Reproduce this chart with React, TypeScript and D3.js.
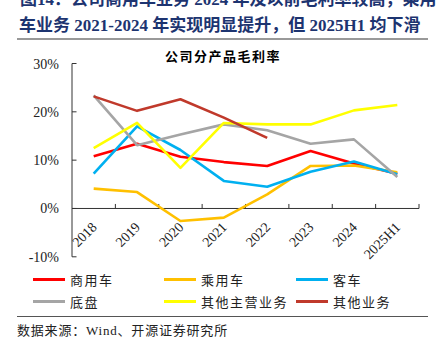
import React from "react";
import * as d3 from "d3";

const categories = ["2018", "2019", "2020", "2021", "2022", "2023", "2024", "2025H1"];
const seriesNames = ["商用车", "乘用车", "客车", "底盘", "其他主营业务", "其他业务"];
const commercial = [10.8, 13.4, 10.7, 9.6, 8.8, 11.9, 9.3, 7.2];
const passenger = [4.1, 3.4, -2.6, -1.9, 2.9, 8.8, 8.9, 7.5];
const bus = [7.2, 17.0, 12.1, 5.7, 4.5, 7.6, 9.7, 7.1];
const chassis = [23.4, 13.1, 15.3, 17.4, 16.2, 13.4, 14.3, 6.5];
const otherMain = [12.5, 17.7, 8.4, 17.7, 17.4, 17.4, 20.3, 21.4];
const otherBiz = [23.2, 20.2, 22.6, 18.8, 14.6, null, null, null];
const yTicks = [30, 20, 10, 0, -10];
const colors = ["#FF0000", "#FFC000", "#00B0F0", "#A5A5A5", "#FFFF00", "#C0392B"];

const allSeries: (number | null)[][] = [commercial, passenger, bus, chassis, otherMain, otherBiz];

const serif = "'Liberation Serif', 'Times New Roman', 'Noto Sans CJK SC', serif";
const cjk = "'Noto Sans CJK SC', sans-serif";

export default function App() {
  const x = d3.scaleBand<string>().domain(categories).range([72, 419]);
  const y = d3.scaleLinear().domain([-10, 30]).range([256.8, 63.5]);
  const line = d3
    .line<number | null>()
    .defined((d) => d !== null)
    .x((_, i) => (x(categories[i]) as number) + x.bandwidth() / 2)
    .y((d) => y(d as number));

  const legendCols = [33, 164, 296];
  const legendRows = [279.5, 301.5];

  return (
    <svg
      width={439}
      height={354}
      style={{ position: "absolute", left: 0, top: 0, background: "#fff" }}
    >
      <rect width={439} height={354} fill="#fff" />
      {/* title */}
      <text x={20} y={5} fontFamily={serif} fontWeight="bold" fontSize={17} fill="#1D3470">
        图14：公司商用车业务 2024 年及以前毛利率较高，乘用
      </text>
      <text x={19} y={31} fontFamily={serif} fontWeight="bold" fontSize={17} fill="#1D3470">
        车业务 2021-2024 年实现明显提升，但 2025H1 均下滑
      </text>
      <line x1={17} x2={428} y1={39} y2={39} stroke="#777" strokeWidth={1.5} />

      {/* chart title */}
      <text
        x={223}
        y={61}
        textAnchor="middle"
        fontFamily={cjk}
        fontWeight="bold"
        fontSize={13}
        letterSpacing={1.5}
        fill="#000"
      >
        公司分产品毛利率
      </text>

      {/* y axis */}
      <line x1={72} x2={72} y1={y(30)} y2={y(-10)} stroke="#333" strokeWidth={1} />
      {yTicks.map((t) => (
        <g key={t}>
          <line x1={72} x2={76.5} y1={y(t)} y2={y(t)} stroke="#333" strokeWidth={1} />
          <text
            x={59}
            y={y(t) + 5}
            textAnchor="end"
            fontFamily={serif}
            fontSize={14}
            fill="#222"
          >
            {t + "%"}
          </text>
        </g>
      ))}

      {/* x axis */}
      <line x1={72} x2={419} y1={y(0)} y2={y(0)} stroke="#333" strokeWidth={1} />
      {categories.map((c) => (
        <line
          key={"t" + c}
          x1={(x(c) as number) + x.bandwidth()}
          x2={(x(c) as number) + x.bandwidth()}
          y1={y(0)}
          y2={y(0) - 4.5}
          stroke="#333"
          strokeWidth={1}
        />
      ))}
      {categories.map((c) => {
        const cx = (x(c) as number) + x.bandwidth() / 2;
        return (
          <text
            key={"l" + c}
            transform={`translate(${cx + 4},${228}) rotate(-45)`}
            textAnchor="end"
            fontFamily={serif}
            fontSize={14}
            fill="#222"
          >
            {c}
          </text>
        );
      })}

      {/* lines */}
      {allSeries.map((s, i) => (
        <path
          key={"s" + i}
          d={line(s) || ""}
          fill="none"
          stroke={colors[i]}
          strokeWidth={2.6}
          strokeLinejoin="round"
        />
      ))}

      {/* legend */}
      {seriesNames.map((n, i) => {
        const lx = legendCols[i % 3];
        const ly = legendRows[Math.floor(i / 3)];
        return (
          <g key={"lg" + i}>
            <line x1={lx} x2={lx + 32} y1={ly} y2={ly} stroke={colors[i]} strokeWidth={3} />
            <text
              x={lx + 37}
              y={ly + 5}
              fontFamily={cjk}
              fontSize={13}
              letterSpacing={1.5}
              fill="#222"
            >
              {n}
            </text>
          </g>
        );
      })}

      <line x1={17} x2={428} y1={316.5} y2={316.5} stroke="#555" strokeWidth={1} />
      <text x={17} y={335} fontFamily={serif} fontSize={13} letterSpacing={0.8} fill="#222">
        数据来源：Wind、开源证券研究所
      </text>
    </svg>
  );
}
